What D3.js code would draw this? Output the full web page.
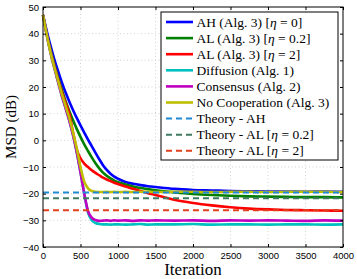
<!DOCTYPE html>
<html>
<head>
<meta charset="utf-8">
<script src="https://cdn.jsdelivr.net/npm/d3@7"></script>
<style>
  body { margin: 0; background: #fff; }
  .tick text { font-family: "Liberation Sans", Arial, sans-serif; font-size: 9.5px; fill: #000; }
</style>
</head>
<body>
<div id="my_dataviz"></div>
<script>
// ---- data ----
var iters = [0,50,100,150,200,250,300,350,400,450,500,550,600,650,700,750,800,850,900,950,1000,
             1100,1200,1300,1400,1500,1750,2000,2250,2500,2750,3000,3250,3500,3750,4000];

var msdAH     = [47,41,35.5,30.5,26,21.8,18,14.6,11.4,8.4,5.6,2.9,0.3,-2.2,-4.7,-7.1,-9.3,-11.1,-12.5,-13.6,-14.4,
                 -15.6,-16.3,-16.8,-17.2,-17.5,-18.2,-18.6,-18.8,-19,-19.1,-19.2,-19.2,-19.3,-19.2,-19.3];
var msdAL02   = [47,40,34,28.5,23.5,19,14.8,11,7.5,4.3,1.3,-1.5,-4,-6.4,-8.6,-10.5,-12.1,-13.3,-14.3,-15.1,-15.7,
                 -16.6,-17.3,-17.9,-18.3,-18.7,-19.5,-20.1,-20.5,-20.8,-21,-21.1,-21.2,-21.3,-21.3,-21.4];
var msdAL2    = [47,39.8,33.5,28,23,18.3,14,10,3,-3.5,-6.8,-8.7,-10,-11.2,-12.2,-13.1,-14,-14.7,-15.3,-15.9,-16.4,
                 -17.3,-18.2,-19,-19.8,-20.5,-22.3,-23.5,-24.4,-25.1,-25.6,-25.9,-26.1,-26.2,-26.3,-26.4];
var msdDiff   = [47,39.5,33,27.3,22,16.8,12.2,7.5,2,-4.5,-12,-20,-27,-30,-31,-31.4,-31.5,-31.5,-31.6,-31.5,-31.5,
                 -31.6,-31.5,-31.4,-31.6,-31.5,-31.5,-31.4,-31.6,-31.5,-31.5,-31.6,-31.5,-31.5,-31.6,-31.5];
var msdCons   = [47,39.5,33,27.3,22,16.8,12.2,7.5,2,-4.5,-12,-20,-26.5,-29,-29.9,-30.2,-30.1,-30,-30.2,-30,-30.1,
                 -30,-30.2,-30,-30.1,-30,-30.1,-30,-30.2,-30,-30.1,-30,-30.1,-30.2,-30,-30.1];
var msdNoCoop = [47,39.5,33,27.5,22.5,17.5,13,8.5,3,-3,-10,-15.5,-18,-19,-19.3,-19.4,-19.4,-19.3,-19.4,-19.3,-19.4,
                 -19.3,-19.4,-19.3,-19.3,-19.4,-19.3,-19.3,-19.4,-19.3,-19.3,-19.4,-19.3,-19.3,-19.3,-19.4];

var theoryAH = -19.6, theoryAL02 = -21.7, theoryAL2 = -26.2;

var xTicks = [0,500,1000,1500,2000,2500,3000,3500,4000];
var yTicks = [-40,-30,-20,-10,0,10,20,30,40,50];

var serifFont = "'Liberation Serif', 'DejaVu Serif'";

// ---- layout ----
var margin = {top: 7, right: 14, bottom: 32, left: 43},
    width = 357 - margin.left - margin.right,
    height = 279 - margin.top - margin.bottom;

var svg = d3.select("#my_dataviz")
  .append("svg")
    .attr("width", 357)
    .attr("height", 279)
  .append("g")
    .attr("transform", "translate(" + margin.left + "," + margin.top + ")");

var x = d3.scaleLinear().domain([0, 4000]).range([0, width]);
var y = d3.scaleLinear().domain([-40, 50]).range([height, 0]);

// grid
svg.append("g").selectAll("line").data(xTicks.slice(1, -1)).enter().append("line")
  .attr("x1", d => x(d)).attr("x2", d => x(d)).attr("y1", 0).attr("y2", height)
  .attr("stroke", "#c8c8c8").attr("stroke-width", 0.8).attr("stroke-dasharray", "1,2.5");
svg.append("g").selectAll("line").data(yTicks.slice(1, -1)).enter().append("line")
  .attr("y1", d => y(d)).attr("y2", d => y(d)).attr("x1", 0).attr("x2", width)
  .attr("stroke", "#c8c8c8").attr("stroke-width", 0.8).attr("stroke-dasharray", "1,2.5");

// curves
var series = [
  {name: "AH", vals: msdAH, color: "#0000ff"},
  {name: "AL02", vals: msdAL02, color: "#008000"},
  {name: "AL2", vals: msdAL2, color: "#ff0000"},
  {name: "Diff", vals: msdDiff, color: "#00bfbf"},
  {name: "Cons", vals: msdCons, color: "#bf00bf"},
  {name: "NoCoop", vals: msdNoCoop, color: "#bfbf00"}
];
var line = d3.line().x(d => x(d[0])).y(d => y(d[1])).curve(d3.curveMonotoneX);

series.forEach(function(s) {
  svg.append("path")
    .datum(iters.map((it, i) => [it, s.vals[i]]))
    .attr("fill", "none")
    .attr("stroke", s.color)
    .attr("stroke-width", 2.6)
    .attr("stroke-linejoin", "round")
    .attr("d", line);
});

// theory lines
var theory = [
  {v: theoryAH, color: "#1f8ad6"},
  {v: theoryAL02, color: "#3f7a62"},
  {v: theoryAL2, color: "#e0401c"}
];
theory.forEach(function(t) {
  svg.append("line")
    .attr("x1", x(0)).attr("x2", x(4000))
    .attr("y1", y(t.v)).attr("y2", y(t.v))
    .attr("stroke", t.color).attr("stroke-width", 2)
    .attr("stroke-dasharray", "6,4");
});

// axes (MATLAB style: ticks inward, on all sides)
svg.append("g")
  .attr("transform", "translate(0," + height + ")")
  .call(d3.axisBottom(x).tickValues(xTicks).tickFormat(d3.format("d"))
        .tickSizeInner(-3).tickSizeOuter(0).tickPadding(5))
  .call(g => g.select(".domain").remove());
svg.append("g")
  .call(d3.axisTop(x).tickValues(xTicks).tickSizeInner(-3).tickSizeOuter(0).tickFormat(""))
  .call(g => g.select(".domain").remove());
svg.append("g")
  .call(d3.axisLeft(y).tickValues(yTicks).tickSizeInner(-3).tickSizeOuter(0).tickPadding(4))
  .call(g => g.select(".domain").remove());
svg.append("g")
  .attr("transform", "translate(" + width + ",0)")
  .call(d3.axisRight(y).tickValues(yTicks).tickSizeInner(-3).tickSizeOuter(0).tickFormat(""))
  .call(g => g.select(".domain").remove());

svg.selectAll(".tick line").attr("stroke", "#000");

svg.append("rect")
  .attr("width", width).attr("height", height)
  .attr("fill", "none").attr("stroke", "#000").attr("stroke-width", 1);

// axis labels
svg.append("text")
  .attr("font-family", serifFont)
  .attr("x", width / 2).attr("y", height + 28)
  .attr("text-anchor", "middle")
  .attr("font-size", 17)
  .text("Iteration");

svg.append("text")
  .attr("font-family", serifFont)
  .attr("transform", "translate(" + (-27) + "," + (height / 2) + ") rotate(-90)")
  .attr("text-anchor", "middle")
  .attr("font-size", 15)
  .text("MSD (dB)");

// legend
var legendItems = [
  {pre: "AH (Alg. 3) [", eta: "0]", color: "#0000ff", dash: null},
  {pre: "AL (Alg. 3) [", eta: "0.2]", color: "#008000", dash: null},
  {pre: "AL (Alg. 3) [", eta: "2]", color: "#ff0000", dash: null},
  {pre: "Diffusion (Alg. 1)", eta: null, color: "#00bfbf", dash: null},
  {pre: "Consensus (Alg. 2)", eta: null, color: "#bf00bf", dash: null},
  {pre: "No Cooperation (Alg. 3)", eta: null, color: "#bfbf00", dash: null},
  {pre: "Theory - AH", eta: null, color: "#1f8ad6", dash: "6,4"},
  {pre: "Theory - AL [", eta: "0.2]", color: "#3f7a62", dash: "6,4"},
  {pre: "Theory - AL [", eta: "2]", color: "#e0401c", dash: "6,4"}
];

var lx = 161 - margin.left, ly = 12 - margin.top;
var legend = svg.append("g").attr("transform", "translate(" + lx + "," + ly + ")");
legend.append("rect")
  .attr("width", 177).attr("height", 148)
  .attr("fill", "#fff").attr("stroke", "#000").attr("stroke-width", 1);

legendItems.forEach(function(d, i) {
  var cy = 10 + i * 16.1;
  legend.append("line")
    .attr("x1", 5).attr("x2", 32).attr("y1", cy).attr("y2", cy)
    .attr("stroke", d.color).attr("stroke-width", d.dash ? 2 : 2.6)
    .attr("stroke-dasharray", d.dash);
  var t = legend.append("text")
    .attr("font-family", serifFont)
    .attr("x", 35.5).attr("y", cy + 4.5)
    .attr("font-size", 13.5);
  t.append("tspan").text(d.pre);
  if (d.eta) {
    t.append("tspan").attr("font-style", "italic").text("η");
    t.append("tspan").text(" = " + d.eta);
  }
});
</script>
</body>
</html>
